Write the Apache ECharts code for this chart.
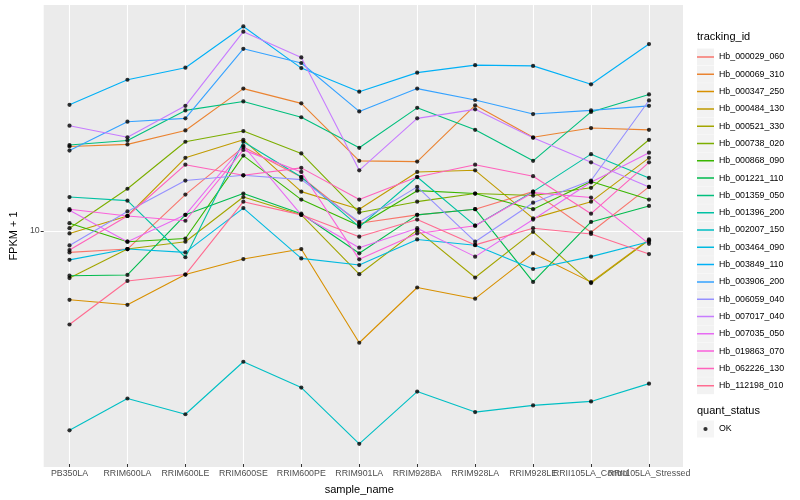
<!DOCTYPE html>
<html>
<head>
<meta charset="utf-8">
<script src="https://cdn.jsdelivr.net/npm/echarts@6/dist/echarts.min.js"></script>
<style>
html,body{margin:0;padding:0;background:#fff;}
#c{width:800px;height:500px;}
</style>
</head>
<body>
<div id="c"></div>
<script>
const categories = ['PB350LA','RRIM600LA','RRIM600LE','RRIM600SE','RRIM600PE','RRIM901LA','RRIM928BA','RRIM928LA','RRIM928LE','RRII105LA_Control','RRII105LA_Stressed'];

const Hb_000029_060 = [8.38, 8.60, 13.1, 18.9, 15.0, 10.5, 11.2, 11.7, 13.4, 9.79, 13.9];
const Hb_000069_310 = [19.0, 19.3, 21.5, 29.7, 26.5, 17.0, 16.9, 26.1, 20.4, 21.9, 21.6];
const Hb_000347_250 = [5.81, 5.59, 7.06, 7.96, 8.60, 4.17, 6.39, 5.86, 8.32, 6.66, 9.26];
const Hb_000484_130 = [9.70, 11.1, 17.4, 20.0, 13.4, 11.7, 15.6, 15.8, 10.9, 12.4, 17.4];
const Hb_000521_330 = [6.87, 8.60, 9.10, 12.85, 11.2, 7.08, 9.95, 6.90, 9.82, 6.61, 9.21];
const Hb_000738_020 = [10.1, 13.7, 19.7, 21.4, 18.0, 11.4, 12.4, 13.2, 13.0, 13.8, 20.0];
const Hb_000868_090 = [10.5, 9.10, 9.33, 17.7, 12.6, 10.3, 13.5, 13.2, 11.7, 14.5, 12.6];
const Hb_001221_110 = [7.00, 7.04, 11.2, 13.2, 11.3, 8.32, 11.2, 11.7, 6.67, 10.6, 12.0];
const Hb_001359_050 = [19.2, 19.9, 25.1, 26.9, 23.8, 18.8, 25.6, 21.6, 17.0, 24.8, 28.4];
const Hb_001396_200 = [12.85, 12.5, 8.07, 19.7, 15.0, 10.2, 15.0, 10.3, 13.4, 17.9, 14.9];
const Hb_002007_150 = [2.12, 2.71, 2.40, 3.60, 2.95, 1.91, 2.86, 2.44, 2.57, 2.65, 3.04];
const Hb_003464_090 = [7.91, 8.60, 8.38, 11.8, 8.00, 7.60, 9.26, 8.86, 7.37, 8.11, 9.10];
const Hb_003849_110 = [26.2, 31.8, 34.9, 48.0, 34.8, 29.0, 33.6, 35.6, 35.4, 30.7, 41.9];
const Hb_003906_200 = [18.4, 23.0, 23.6, 40.4, 36.2, 24.9, 29.7, 27.2, 24.4, 25.1, 26.0];
const Hb_006059_040 = [8.84, 11.5, 14.6, 15.2, 14.7, 10.6, 13.9, 9.10, 12.3, 14.6, 27.1];
const Hb_007017_040 = [22.3, 20.4, 26.0, 46.1, 37.8, 15.8, 23.6, 25.3, 20.3, 16.8, 13.9];
const Hb_007035_050 = [11.6, 9.10, 11.2, 19.1, 11.2, 8.69, 10.1, 8.11, 10.8, 14.4, 18.1];
const Hb_019863_070 = [11.7, 11.1, 10.7, 18.5, 15.6, 7.94, 9.70, 10.3, 13.3, 12.8, 8.95];
const Hb_062226_130 = [8.53, 11.1, 16.5, 15.2, 16.1, 12.6, 15.0, 16.5, 15.1, 11.3, 16.8];
const Hb_112198_010 = [4.80, 6.72, 7.06, 12.4, 11.2, 9.46, 10.8, 8.88, 10.1, 9.66, 8.27];

const trackingIds = ['Hb_000029_060','Hb_000069_310','Hb_000347_250','Hb_000484_130','Hb_000521_330','Hb_000738_020','Hb_000868_090','Hb_001221_110','Hb_001359_050','Hb_001396_200','Hb_002007_150','Hb_003464_090','Hb_003849_110','Hb_003906_200','Hb_006059_040','Hb_007017_040','Hb_007035_050','Hb_019863_070','Hb_062226_130','Hb_112198_010'];
const seriesValues = [Hb_000029_060,Hb_000069_310,Hb_000347_250,Hb_000484_130,Hb_000521_330,Hb_000738_020,Hb_000868_090,Hb_001221_110,Hb_001359_050,Hb_001396_200,Hb_002007_150,Hb_003464_090,Hb_003849_110,Hb_003906_200,Hb_006059_040,Hb_007017_040,Hb_007035_050,Hb_019863_070,Hb_062226_130,Hb_112198_010];
const colors = ['#F8766D','#EA8331','#D89000','#C09B00','#A3A500','#7CAE00','#39B600','#00BB4E','#00BF7D','#00C1A3','#00BFC4','#00BAE0','#00B0F6','#35A2FF','#9590FF','#C77CFF','#E76BF3','#FA62DB','#FF62BC','#FF6C91'];
const quantStatus = ['OK'];
const yTicks = [10];
const yMin = 1.634, yMax = 56.66;

const chart = echarts.init(document.getElementById('c'), null, {renderer: 'canvas'});

const series = trackingIds.map((id, i) => ({
  name: id,
  type: 'line',
  xAxisIndex: 1,
  yAxisIndex: 1,
  data: seriesValues[i],
  symbol: 'none',
  lineStyle: {color: colors[i], width: 1.1},
  itemStyle: {color: colors[i]},
  z: 2,
  silent: true
}));
const pts = [];
seriesValues.forEach(vals => vals.forEach((v, j) => pts.push([categories[j], v])));
series.push({
  name: quantStatus[0],
  type: 'scatter',
  xAxisIndex: 1,
  yAxisIndex: 1,
  data: pts,
  symbol: 'circle',
  symbolSize: 4.2,
  itemStyle: {color: '#000'},
  z: 3,
  silent: true
});

const font = 'Liberation Sans, Arial, sans-serif';
const legendCommon = {
  orient: 'vertical', left: 697, padding: 0,
  itemWidth: 17, itemHeight: 17, itemGap: 0.3,
  selectedMode: false, animation: false
};
const lineIcon = 'path://M0,0L0.01,0L0,0.01ZM0,7.75h17v1.5h-17zM17,17L16.99,17L17,16.99Z';
const pointIcon = 'path://M0,0L0.01,0L0,0.01ZM17,17L16.99,17L17,16.99ZM8.5,6.4A2.1,2.1,0,1,1,8.49,6.4Z';

chart.setOption({
  animation: false,
  backgroundColor: '#ffffff',
  textStyle: {fontFamily: font},
  grid: [
    {left: 35, right: 117, top: 5, bottom: 33, show: true, backgroundColor: '#EBEBEB', borderWidth: 0, containLabel: false},
    {left: 69.5, right: 151, top: 5, bottom: 33, containLabel: false}
  ],
  xAxis: [
    {gridIndex: 0, type: 'value', min: 0, max: 1, show: false},
    {gridIndex: 1, type: 'category', data: categories, boundaryGap: false,
     axisLine: {show: false},
     axisTick: {show: true, length: 3, lineStyle: {color: '#333333', width: 1}},
     axisLabel: {interval: 0, hideOverlap: false, color: '#4D4D4D', fontSize: 8.8, margin: 5, fontFamily: font},
     splitLine: {show: true, lineStyle: {color: '#ffffff', width: 1.1}},
     name: 'sample_name', nameLocation: 'middle', nameGap: 20,
     nameTextStyle: {color: '#000', fontSize: 11, fontFamily: font}}
  ],
  yAxis: [
    {gridIndex: 0, type: 'log', logBase: 10, min: yMin, max: yMax,
     axisLine: {show: false},
     axisTick: {show: true, length: 3, lineStyle: {color: '#333333'}, customValues: yTicks},
     axisLabel: {color: '#4D4D4D', fontSize: 8.8, margin: 4, customValues: yTicks, fontFamily: font,
                 formatter: v => (Math.abs(v - 10) < 1e-6 ? '10' : '')},
     splitLine: {show: true, lineStyle: {color: '#ffffff', width: 1.1}},
     name: 'FPKM + 1', nameLocation: 'middle', nameGap: 21,
     nameTextStyle: {color: '#000', fontSize: 11, fontFamily: font}},
    {gridIndex: 1, type: 'log', logBase: 10, min: yMin, max: yMax, show: false, splitLine: {show: false}}
  ],
  legend: [
    Object.assign({}, legendCommon, {
      top: 48.5, data: trackingIds, icon: 'rect', z: 1,
      itemStyle: {color: '#F2F2F2', borderWidth: 0, borderColor: '#F2F2F2'},
      textStyle: {color: 'rgba(0,0,0,0)', fontSize: 8.8, fontFamily: font}
    }),
    Object.assign({}, legendCommon, {
      top: 48.5, data: trackingIds, icon: lineIcon, z: 5,
      itemStyle: {borderWidth: 0},
      textStyle: {color: '#000', fontSize: 8.8, fontFamily: font}
    }),
    Object.assign({}, legendCommon, {
      top: 420.5, data: quantStatus, icon: 'rect', z: 1,
      itemStyle: {color: '#F2F2F2', borderWidth: 0, borderColor: '#F2F2F2'},
      textStyle: {color: 'rgba(0,0,0,0)', fontSize: 8.8, fontFamily: font}
    }),
    Object.assign({}, legendCommon, {
      top: 420.5, data: quantStatus, icon: pointIcon, z: 5,
      itemStyle: {borderWidth: 0},
      textStyle: {color: '#000', fontSize: 8.8, fontFamily: font}
    })
  ],
  graphic: [
    {type: 'text', left: 697, top: 31, style: {text: 'tracking_id', fill: '#000', font: '11px ' + font}},
    {type: 'text', left: 697, top: 405, style: {text: 'quant_status', fill: '#000', font: '11px ' + font}}
  ],
  series: series
});
</script>
</body>
</html>
